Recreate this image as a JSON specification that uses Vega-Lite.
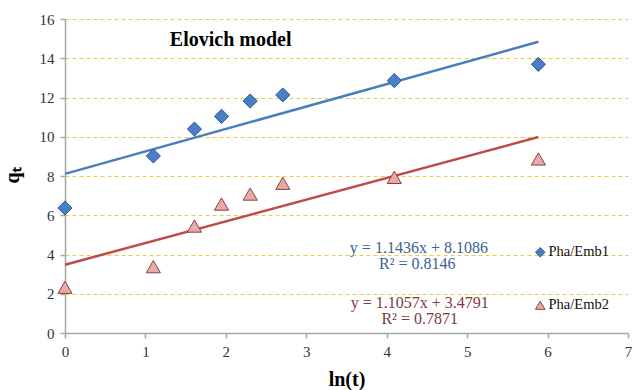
{
  "$schema": "https://vega.github.io/schema/vega-lite/v6.json",
  "width": 563,
  "height": 314,
  "autosize": {"type": "none"},
  "padding": {"left": 65, "top": 19, "right": 6, "bottom": 57},
  "background": "white",
  "config": {
    "view": {"stroke": null},
    "font": "Liberation Serif",
    "axis": {"labelFont": "Liberation Serif", "labelFontSize": 15, "titleFont": "Liberation Serif"},
    "legend": {"labelFont": "Liberation Serif", "labelFontSize": 14.5}
  },
  "datasets": {
    "points": [
      {"lnt": 0, "q": 6.37, "series": "Pha/Emb1"},
      {"lnt": 1.0986, "q": 9.02, "series": "Pha/Emb1"},
      {"lnt": 1.6094, "q": 10.39, "series": "Pha/Emb1"},
      {"lnt": 1.9459, "q": 11.04, "series": "Pha/Emb1"},
      {"lnt": 2.3026, "q": 11.82, "series": "Pha/Emb1"},
      {"lnt": 2.7081, "q": 12.13, "series": "Pha/Emb1"},
      {"lnt": 4.0943, "q": 12.86, "series": "Pha/Emb1"},
      {"lnt": 5.8861, "q": 13.69, "series": "Pha/Emb1"},
      {"lnt": 0, "q": 2.33, "series": "Pha/Emb2"},
      {"lnt": 1.0986, "q": 3.38, "series": "Pha/Emb2"},
      {"lnt": 1.6094, "q": 5.45, "series": "Pha/Emb2"},
      {"lnt": 1.9459, "q": 6.57, "series": "Pha/Emb2"},
      {"lnt": 2.3026, "q": 7.08, "series": "Pha/Emb2"},
      {"lnt": 2.7081, "q": 7.63, "series": "Pha/Emb2"},
      {"lnt": 4.0943, "q": 7.93, "series": "Pha/Emb2"},
      {"lnt": 5.8861, "q": 8.87, "series": "Pha/Emb2"}
    ],
    "trend": [
      {"lnt": 0, "q": 8.1086, "series": "Pha/Emb1"},
      {"lnt": 5.8861, "q": 14.84, "series": "Pha/Emb1"},
      {"lnt": 0, "q": 3.4791, "series": "Pha/Emb2"},
      {"lnt": 5.8861, "q": 9.987, "series": "Pha/Emb2"}
    ],
    "notes": [
      {"lnt": 4.40, "q": 4.09, "label": "y = 1.1436x + 8.1086", "series": "Pha/Emb1"},
      {"lnt": 4.38, "q": 3.26, "label": "R² = 0.8146", "series": "Pha/Emb1"},
      {"lnt": 4.41, "q": 1.26, "label": "y = 1.1057x + 3.4791", "series": "Pha/Emb2"},
      {"lnt": 4.41, "q": 0.46, "label": "R² = 0.7871", "series": "Pha/Emb2"}
    ],
    "heading": [
      {"lnt": 2.06, "q": 14.62, "label": "Elovich model"}
    ]
  },
  "encoding": {
    "x": {
      "field": "lnt", "type": "quantitative",
      "scale": {"domain": [0, 7], "nice": false, "zero": false},
      "axis": {
        "title": "ln(t)",
        "values": [0, 1, 2, 3, 4, 5, 6, 7],
        "format": "d",
        "labelFlush": false,
        "labelOverlap": false,
        "grid": false,
        "domainColor": "#a6a6a6",
        "domainWidth": 1.5,
        "tickColor": "#a6a6a6",
        "tickWidth": 1.5,
        "tickSize": 5,
        "labelFont": "Liberation Serif",
        "labelFontSize": 15,
        "labelColor": "#333333",
        "labelPadding": 6,
        "titleFont": "Liberation Serif",
        "titleFontWeight": "bold",
        "titleFontSize": 20,
        "titleColor": "#000000",
        "titleBaseline": "alphabetic",
        "titleY": 52
      }
    },
    "y": {
      "field": "q", "type": "quantitative",
      "scale": {"domain": [0, 16], "nice": false},
      "axis": {
        "title": "qₜ",
        "values": [0, 2, 4, 6, 8, 10, 12, 14, 16],
        "format": "d",
        "labelOverlap": false,
        "grid": true,
        "gridColor": "#edcd3c",
        "gridDash": [4, 3],
        "gridWidth": 1,
        "domainColor": "#a6a6a6",
        "domainWidth": 1.5,
        "tickColor": "#a6a6a6",
        "tickWidth": 1.5,
        "tickSize": 5,
        "labelFont": "Liberation Serif",
        "labelFontSize": 15,
        "labelColor": "#333333",
        "labelPadding": 6,
        "titleFont": "Liberation Serif",
        "titleFontWeight": "bold",
        "titleFontSize": 20,
        "titleColor": "#000000",
        "titleAngle": -90,
        "titleAlign": "center",
        "titleBaseline": "alphabetic",
        "titleX": -47,
        "titleY": 156
      }
    }
  },
  "layer": [
    {
      "data": {"name": "trend"},
      "transform": [{"filter": "datum.series === 'Pha/Emb1'"}],
      "mark": {"type": "line", "strokeWidth": 2.5, "color": "#4a7ebb"},
      "encoding": {}
    },
    {
      "data": {"name": "trend"},
      "transform": [{"filter": "datum.series === 'Pha/Emb2'"}],
      "mark": {"type": "line", "strokeWidth": 2.5, "color": "#be4b48"},
      "encoding": {}
    },
    {
      "data": {"name": "points"},
      "mark": {"type": "point", "filled": true, "opacity": 1, "strokeWidth": 1, "size": 200},
      "encoding": {
        "shape": {
          "field": "series", "type": "nominal",
          "scale": {"domain": ["Pha/Emb1", "Pha/Emb2"], "range": ["diamond", "triangle-up"]},
          "legend": {
            "title": null,
            "orient": "none",
            "legendX": 468,
            "legendY": 226,
            "padding": 0,
            "rowPadding": 38,
            "symbolSize": 90,
            "symbolStrokeWidth": 1,
            "labelOffset": 1,
            "labelFont": "Liberation Serif",
            "labelFontSize": 14.5,
            "labelColor": "#111111"
          }
        },
        "fill": {
          "field": "series", "type": "nominal",
          "scale": {"domain": ["Pha/Emb1", "Pha/Emb2"], "range": ["#4a7fc8", "#e8aaa8"]}
        },
        "stroke": {
          "field": "series", "type": "nominal",
          "scale": {"domain": ["Pha/Emb1", "Pha/Emb2"], "range": ["#2f5597", "#8c3f3d"]}
        }
      }
    },
    {
      "data": {"name": "notes"},
      "transform": [{"filter": "datum.series === 'Pha/Emb1'"}],
      "mark": {"type": "text", "fontSize": 16, "align": "center", "baseline": "alphabetic", "color": "#3c6097", "font": "Liberation Serif"},
      "encoding": {"text": {"field": "label"}}
    },
    {
      "data": {"name": "notes"},
      "transform": [{"filter": "datum.series === 'Pha/Emb2'"}],
      "mark": {"type": "text", "fontSize": 16, "align": "center", "baseline": "alphabetic", "color": "#7d3b3a", "font": "Liberation Serif"},
      "encoding": {"text": {"field": "label"}}
    },
    {
      "data": {"name": "heading"},
      "mark": {"type": "text", "fontSize": 20, "fontWeight": "bold", "align": "center", "baseline": "alphabetic", "color": "#000000", "font": "Liberation Serif"},
      "encoding": {"text": {"field": "label"}}
    }
  ]
}
